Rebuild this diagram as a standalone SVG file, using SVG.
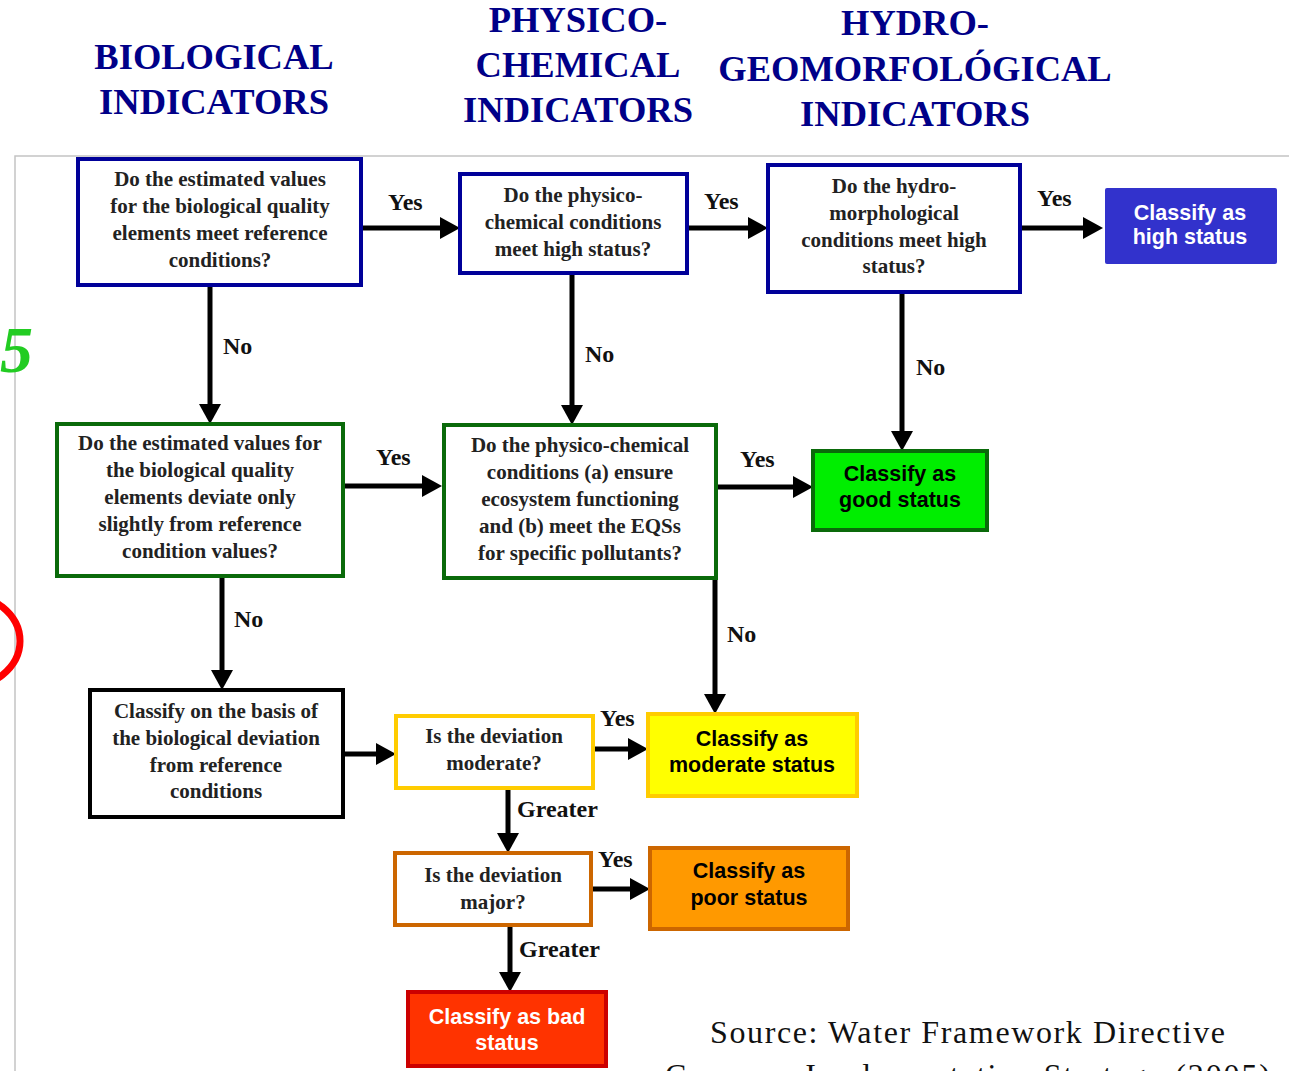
<svg xmlns="http://www.w3.org/2000/svg" width="1289" height="1071" viewBox="0 0 1289 1071">
<style>
.hdr{font-family:"Liberation Serif","Times New Roman",serif;font-weight:bold;font-size:36.5px;fill:#000088;text-anchor:middle}
.q{font-family:"Liberation Serif","Times New Roman",serif;font-weight:bold;font-size:21px;fill:#222;text-anchor:middle}
.c{font-family:"Liberation Sans",Arial,sans-serif;font-weight:bold;font-size:21.5px;text-anchor:middle}
.lbl{font-family:"Liberation Serif","Times New Roman",serif;font-weight:bold;font-size:24px;fill:#111}
.wire{stroke:#000;stroke-width:5;fill:none}
.blue{fill:#fff;stroke:#000099;stroke-width:4}
.green{fill:#fff;stroke:#0a6a0a;stroke-width:4}
.black{fill:#fff;stroke:#000;stroke-width:4}
.src{font-family:"Liberation Serif","Times New Roman",serif;font-size:32px;fill:#111}
</style>
<defs>
<marker id="ah" viewBox="0 0 20 22" refX="6" refY="11" markerWidth="20" markerHeight="22" markerUnits="userSpaceOnUse" orient="auto">
<path d="M0,0 L20,11 L0,22 z" fill="#000"/>
</marker>
</defs>
<rect width="1289" height="1071" fill="#fff"/>
<path d="M15,1071 L15,156 L1289,156" stroke="#c4c4c4" stroke-width="1.5" fill="none"/>

<g id="headers">
<text class="hdr" x="214" y="69">BIOLOGICAL</text>
<text class="hdr" x="214" y="114">INDICATORS</text>
<text class="hdr" x="578" y="32">PHYSICO-</text>
<text class="hdr" x="578" y="77">CHEMICAL</text>
<text class="hdr" x="578" y="122">INDICATORS</text>
<text class="hdr" x="915" y="35">HYDRO-</text>
<text class="hdr" x="915" y="81">GEOMORFOLÓGICAL</text>
<text class="hdr" x="915" y="126">INDICATORS</text>
</g>

<g id="artifacts">
<text x="0" y="372" font-family="Liberation Serif, serif" font-style="italic" font-weight="bold" font-size="66" fill="#22cc22">5</text>
<ellipse cx="-40" cy="641" rx="60" ry="48" fill="none" stroke="#ff0000" stroke-width="7"/>
</g>

<g id="connectors">
<path class="wire" d="M361,228 L446,228" marker-end="url(#ah)"/>
<path class="wire" d="M687,228 L754,228" marker-end="url(#ah)"/>
<path class="wire" d="M1020,228 L1089,228" marker-end="url(#ah)"/>
<path class="wire" d="M210,285 L210,410" marker-end="url(#ah)"/>
<path class="wire" d="M572,273 L572,411" marker-end="url(#ah)"/>
<path class="wire" d="M902,292 L902,437" marker-end="url(#ah)"/>
<path class="wire" d="M343,486 L428,486" marker-end="url(#ah)"/>
<path class="wire" d="M716,487 L799,487" marker-end="url(#ah)"/>
<path class="wire" d="M222,576 L222,676" marker-end="url(#ah)"/>
<path class="wire" d="M715,578 L715,700" marker-end="url(#ah)"/>
<path class="wire" d="M343,754 L382,754" marker-end="url(#ah)"/>
<path class="wire" d="M593,749 L634,749" marker-end="url(#ah)"/>
<path class="wire" d="M508,788 L508,839" marker-end="url(#ah)"/>
<path class="wire" d="M591,889 L636,889" marker-end="url(#ah)"/>
<path class="wire" d="M510,925 L510,978" marker-end="url(#ah)"/>
<text class="lbl" x="388" y="210">Yes</text>
<text class="lbl" x="704" y="209">Yes</text>
<text class="lbl" x="1037" y="206">Yes</text>
<text class="lbl" x="223" y="354">No</text>
<text class="lbl" x="585" y="362">No</text>
<text class="lbl" x="916" y="375">No</text>
<text class="lbl" x="376" y="465">Yes</text>
<text class="lbl" x="740" y="467">Yes</text>
<text class="lbl" x="234" y="627">No</text>
<text class="lbl" x="727" y="642">No</text>
<text class="lbl" x="600" y="726">Yes</text>
<text class="lbl" x="517" y="817">Greater</text>
<text class="lbl" x="598" y="867">Yes</text>
<text class="lbl" x="519" y="957">Greater</text>
</g>

<g id="n1">
<rect class="blue" x="78" y="159" width="283" height="126"/>
<text class="q" x="220" y="186">Do the estimated values</text>
<text class="q" x="220" y="213">for the biological quality</text>
<text class="q" x="220" y="240">elements meet reference</text>
<text class="q" x="220" y="267">conditions?</text>
</g>
<g id="n2">
<rect class="blue" x="460" y="174" width="227" height="99"/>
<text class="q" x="573" y="202">Do the physico-</text>
<text class="q" x="573" y="229">chemical conditions</text>
<text class="q" x="573" y="256">meet high status?</text>
</g>
<g id="n3">
<rect class="blue" x="768" y="165" width="252" height="127"/>
<text class="q" x="894" y="193">Do the hydro-</text>
<text class="q" x="894" y="220">morphological</text>
<text class="q" x="894" y="247">conditions meet high</text>
<text class="q" x="894" y="273">status?</text>
</g>
<g id="n-high">
<rect x="1105" y="188" width="172" height="76" rx="2" fill="#3232cc"/>
<text class="c" x="1190" y="220" fill="#fff">Classify as</text>
<text class="c" x="1190" y="244" fill="#fff">high status</text>
</g>
<g id="n4">
<rect class="green" x="57" y="424" width="286" height="152"/>
<text class="q" x="200" y="450">Do the estimated values for</text>
<text class="q" x="200" y="477">the biological quality</text>
<text class="q" x="200" y="504">elements deviate only</text>
<text class="q" x="200" y="531">slightly from reference</text>
<text class="q" x="200" y="558">condition values?</text>
</g>
<g id="n5">
<rect class="green" x="444" y="425" width="272" height="153"/>
<text class="q" x="580" y="452">Do the physico-chemical</text>
<text class="q" x="580" y="479">conditions (a) ensure</text>
<text class="q" x="580" y="506">ecosystem functioning</text>
<text class="q" x="580" y="533">and (b) meet the EQSs</text>
<text class="q" x="580" y="560">for specific pollutants?</text>
</g>
<g id="n-good">
<rect x="813" y="451" width="174" height="79" fill="#00ee00" stroke="#0a6a0a" stroke-width="4"/>
<text class="c" x="900" y="481" fill="#000">Classify as</text>
<text class="c" x="900" y="507" fill="#000">good status</text>
</g>
<g id="n6">
<rect class="black" x="90" y="690" width="253" height="127"/>
<text class="q" x="216" y="718">Classify on the basis of</text>
<text class="q" x="216" y="745">the biological deviation</text>
<text class="q" x="216" y="772">from reference</text>
<text class="q" x="216" y="798">conditions</text>
</g>
<g id="n7">
<rect x="396" y="716" width="197" height="72" fill="#fff" stroke="#ffcc00" stroke-width="4"/>
<text class="q" x="494" y="743">Is the deviation</text>
<text class="q" x="494" y="770">moderate?</text>
</g>
<g id="n-moderate">
<rect x="648" y="714" width="209" height="82" fill="#ffff00" stroke="#ffcc00" stroke-width="4"/>
<text class="c" x="752" y="746" fill="#000">Classify as</text>
<text class="c" x="752" y="772" fill="#000">moderate status</text>
</g>
<g id="n8">
<rect x="395" y="853" width="196" height="72" fill="#fff" stroke="#cc6600" stroke-width="4"/>
<text class="q" x="493" y="882">Is the deviation</text>
<text class="q" x="493" y="909">major?</text>
</g>
<g id="n-poor">
<rect x="650" y="848" width="198" height="81" fill="#ff9900" stroke="#cc6600" stroke-width="4"/>
<text class="c" x="749" y="878" fill="#000">Classify as</text>
<text class="c" x="749" y="905" fill="#000">poor status</text>
</g>
<g id="n-bad">
<rect x="408" y="992" width="198" height="74" fill="#ff3300" stroke="#cc0000" stroke-width="4"/>
<text class="c" x="507" y="1024" fill="#fff">Classify as bad</text>
<text class="c" x="507" y="1050" fill="#fff">status</text>
</g>

<g id="source">
<text class="src" x="710" y="1043" textLength="515">Source: Water Framework Directive</text>
<text class="src" x="665" y="1086" textLength="605">Common Implementation Strategy (2005)</text>
</g>
</svg>
